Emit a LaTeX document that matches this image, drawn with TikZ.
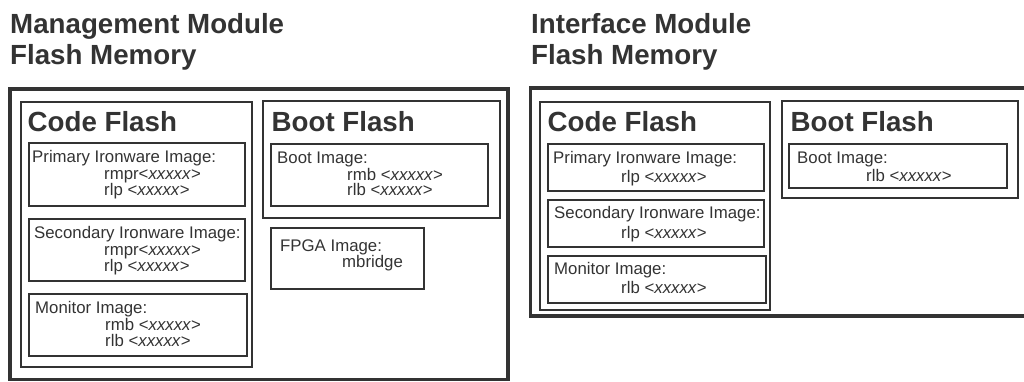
\documentclass[tikz,border=0pt]{standalone}
\usepackage{fontspec}
\setmainfont{Liberation Sans}
\definecolor{ink}{HTML}{333333}
\newcommand\mybox[6]{\node[#1, anchor=north west, minimum width=#5pt, minimum height=#6pt] (#2) at (#3,#4) {};}
\newcommand\mytxt[5]{\node[#1, anchor=base west] (#2) at (#3,#4) {#5};}
\newcommand\xx{<\textit{xxxxx}>}
\begin{document}
\begin{tikzpicture}[x=1pt,y=-1pt,
  outerbox/.style={draw=ink, line width=3.5pt, inner sep=0, outer sep=0},
  flashbox/.style={draw=ink, line width=1.5pt, inner sep=0, outer sep=0},
  imgbox/.style={draw=ink, line width=2pt, inner sep=0, outer sep=0},
  head/.style={font=\fontsize{27.7}{30}\selectfont\bfseries, text=ink, inner sep=0},
  small/.style={font=\fontsize{16.8}{18}\selectfont, text=ink, inner sep=0}]
\useasboundingbox (0,0) rectangle (1024,381);
\clip (0,0) rectangle (1024,381);
% headings
\mytxt{head}{h1a}{10}{33}{Management Module}
\mytxt{head}{h1b}{10}{64}{Flash Memory}
\mytxt{head}{h2a}{531}{33}{Interface Module}
\mytxt{head}{h2b}{531}{64}{Flash Memory}
% left module
\mybox{outerbox}{Lout}{10}{89}{498}{290.5}
\mybox{flashbox}{Lcode}{21}{102}{231}{265}
\mybox{flashbox}{Lboot}{263}{101}{237}{117}
\mybox{imgbox}{Lprim}{29}{143}{216}{63}
\mybox{imgbox}{Lsec}{29}{219}{216}{62}
\mybox{imgbox}{Lmon}{29}{294}{218}{62}
\mybox{imgbox}{Lbimg}{271}{144}{217}{62}
\mybox{imgbox}{Lfpga}{271}{228}{153}{61}
\mytxt{head}{Lcodet}{27.5}{131}{Code Flash}
\mytxt{head}{Lboott}{271.5}{131}{Boot Flash}
\mytxt{small}{Lp1}{32}{162}{Primary Ironware Image:}
\mytxt{small}{Lp2}{104}{179.5}{rmpr\xx}
\mytxt{small}{Lp3}{104}{195.5}{rlp \xx}
\mytxt{small}{Ls1}{34}{238}{Secondary Ironware Image:}
\mytxt{small}{Ls2}{104}{255.5}{rmpr\xx}
\mytxt{small}{Ls3}{104}{271.5}{rlp \xx}
\mytxt{small}{Lm1}{35}{313}{Monitor Image:}
\mytxt{small}{Lm2}{105}{330.5}{rmb \xx}
\mytxt{small}{Lm3}{105}{346.5}{rlb \xx}
\mytxt{small}{Lb1}{277}{163}{Boot Image:}
\mytxt{small}{Lb2}{347}{180}{rmb \xx}
\mytxt{small}{Lb3}{347}{195.5}{rlb \xx}
\mytxt{small}{Lf1}{280}{251}{FPGA Image:}
\mytxt{small}{Lf2}{342}{267}{mbridge}
% right module
\mybox{outerbox}{Rout}{530.5}{88}{520}{228}
\mybox{flashbox}{Rcode}{540}{102}{230}{208}
\mybox{flashbox}{Rboot}{782}{101}{236}{97}
\mybox{imgbox}{Rprim}{548}{144}{216}{47}
\mybox{imgbox}{Rsec}{548}{200}{216}{47}
\mybox{imgbox}{Rmon}{548}{256}{218}{47}
\mybox{imgbox}{Rbimg}{789}{144}{218}{44}
\mytxt{head}{Rcodet}{547.5}{131}{Code Flash}
\mytxt{head}{Rboott}{790.5}{131}{Boot Flash}
\mytxt{small}{Rp1}{553}{163.5}{Primary Ironware Image:}
\mytxt{small}{Rp2}{621}{182.5}{rlp \xx}
\mytxt{small}{Rs1}{554}{218.5}{Secondary Ironware Image:}
\mytxt{small}{Rs2}{621}{238}{rlp \xx}
\mytxt{small}{Rm1}{554}{274}{Monitor Image:}
\mytxt{small}{Rm2}{621}{293}{rlb \xx}
\mytxt{small}{Rb1}{797}{163}{Boot Image:}
\mytxt{small}{Rb2}{866}{181}{rlb \xx}
\end{tikzpicture}
\end{document}
